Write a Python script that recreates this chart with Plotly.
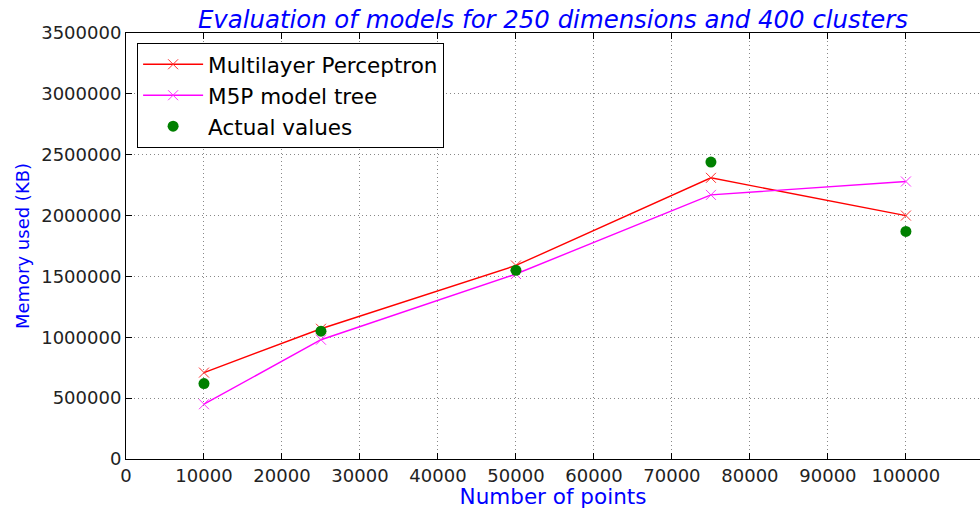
import plotly.graph_objects as go

points = [10000, 25000, 50000, 75000, 100000]
mlp_memory = [710000, 1070000, 1590000, 2310000, 2000000]
m5p_memory = [450000, 980000, 1520000, 2170000, 2280000]
actual_memory = [620000, 1050000, 1550000, 2440000, 1870000]

x_ticks = [0, 10000, 20000, 30000, 40000, 50000, 60000, 70000, 80000, 90000, 100000]
y_ticks = [0, 500000, 1000000, 1500000, 2000000, 2500000, 3000000, 3500000]

font_family = "DejaVu Sans"

fig = go.Figure()
fig.add_trace(go.Scatter(
    x=points, y=mlp_memory, mode="lines+markers", name="Multilayer Perceptron",
    line=dict(color="#ff0000", width=1.4),
    marker=dict(symbol="x-thin", size=10, line=dict(color="#ff3030", width=1)),
))
fig.add_trace(go.Scatter(
    x=points, y=m5p_memory, mode="lines+markers", name="M5P model tree",
    line=dict(color="#ff00ff", width=1.4),
    marker=dict(symbol="x-thin", size=10, line=dict(color="#ff30ff", width=1)),
))
fig.add_trace(go.Scatter(
    x=points, y=actual_memory, mode="markers", name="Actual values",
    marker=dict(symbol="circle", size=11, color="#008000"),
))

fig.update_layout(
    width=980, height=509,
    margin=dict(l=126, r=0, t=33, b=50),
    paper_bgcolor="white", plot_bgcolor="white",
    font=dict(family=font_family, size=14, color="#222"),
    title=dict(
        text="<i>Evaluation of models for 250 dimensions and 400 clusters</i>",
        x=0.5, xref="paper", y=0.978, yref="container", xanchor="center",
        font=dict(family=font_family, size=24.4, color="#0000ff"),
    ),
    legend=dict(
        x=0.013, y=0.977, xanchor="left", yanchor="top",
        bordercolor="black", borderwidth=1, bgcolor="white",
        font=dict(family=font_family, size=21.5, color="black"),
        itemwidth=60, tracegroupgap=0,
    ),
    showlegend=True,
)

fig.update_xaxes(
    range=[0, 109500], tickvals=x_ticks, ticktext=[str(v) for v in x_ticks],
    showline=True, linecolor="black", linewidth=1, mirror="ticks",
    ticks="inside", ticklen=6, tickcolor="black",
    showgrid=True, gridcolor="#888", griddash="1px,3px", gridwidth=1,
    zeroline=False,
    tickfont=dict(family=font_family, size=18, color="#222"),
    title=dict(text="Number of points", font=dict(family=font_family, size=21.5, color="#0000ff"), standoff=6),
)
fig.update_yaxes(
    range=[0, 3500000], tickvals=y_ticks, ticktext=[str(v) for v in y_ticks],
    showline=True, linecolor="black", linewidth=1,
    ticks="inside", ticklen=6, tickcolor="black",
    showgrid=True, gridcolor="#888", griddash="1px,3px", gridwidth=1,
    zeroline=False,
    tickfont=dict(family=font_family, size=18, color="#222"),
    title=dict(text="Memory used (KB)", font=dict(family=font_family, size=18, color="#0000ff"), standoff=6),
)

fig.write_html("out.html")
